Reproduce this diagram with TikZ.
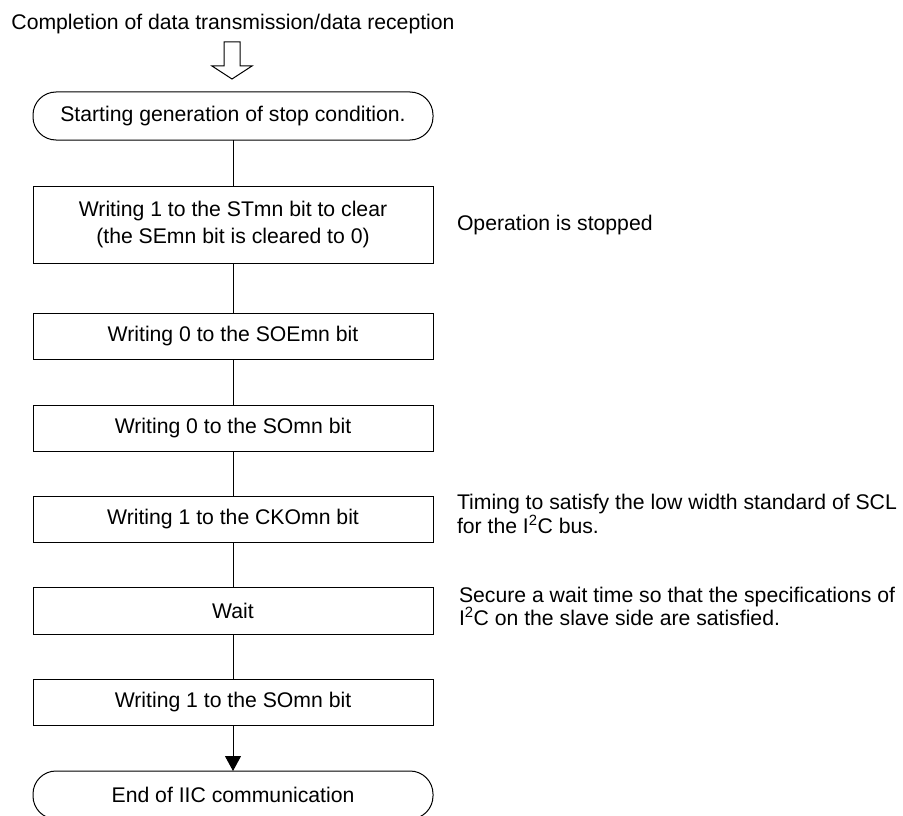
\documentclass[tikz,border=0pt]{standalone}
\usepackage{fontspec}
\setmainfont{Liberation Sans}
\usetikzlibrary{arrows.meta,calc}
\begin{document}
\begin{tikzpicture}[x=1pt,y=-1pt,
  every node/.style={font=\fontsize{21.2}{23.5}\selectfont, inner sep=0pt, outer sep=0pt},
  proc/.style={draw, line width=1pt, minimum width=400pt, minimum height=46.5pt, align=center},
  term/.style={draw, line width=1pt, minimum width=400pt, minimum height=48pt, rounded corners=23pt, align=center},
  note/.style={anchor=west, align=left},
  flow/.style={line width=1pt}]
\useasboundingbox (0,0) rectangle (903,816);
\clip (0,0) rectangle (903,816);
\node[anchor=base] (title) at (233,29.5) {Completion of data transmission/data reception};
\node[term] (start) at (233,116) {Starting generation of stop condition.};
\node[proc, minimum height=77pt, font=\fontsize{21.2}{27}\selectfont] (b1) at (233,224.5) {Writing 1 to the STmn bit to clear\\(the SEmn bit is cleared to 0)};
\node[proc] (b2) at (233,336.5) {Writing 0 to the SOEmn bit};
\node[proc] (b3) at (233,428.5) {Writing 0 to the SOmn bit};
\node[proc] (b4) at (233,519.5) {Writing 1 to the CKOmn bit};
\node[proc] (b5) at (233,611) {Wait};
\node[proc] (b6) at (233,702.5) {Writing 1 to the SOmn bit};
\node[term] (end) at (233,795) {End of IIC communication};
\node[anchor=base west] (n1) at (457,230) {Operation is stopped};
\node[note] (n2) at (457,514) {Timing to satisfy the low width standard of SCL\\for the I\textsuperscript{2}C bus.};
\node[note, font=\fontsize{21.2}{22.5}\selectfont] (n3) at (459,606.5) {Secure a wait time so that the specifications of\\I\textsuperscript{2}C on the slave side are satisfied.};
% hollow arrow
\draw[flow, line join=miter]
  ($(start.north)+(-9,-50)$) -- ($(start.north)+(7,-50)$) -- ($(start.north)+(7,-26)$)
  -- ($(start.north)+(19,-26)$) -- ($(start.north)+(-1,-13)$) -- ($(start.north)+(-21,-26)$)
  -- ($(start.north)+(-9,-26)$) -- cycle;
\draw[flow] (start) -- (b1);
\draw[flow] (b1) -- (b2);
\draw[flow] (b2) -- (b3);
\draw[flow] (b3) -- (b4);
\draw[flow] (b4) -- (b5);
\draw[flow] (b5) -- (b6);
\draw[flow, -{Triangle[length=15pt, width=16pt]}] (b6) -- (end);
\end{tikzpicture}
\end{document}
